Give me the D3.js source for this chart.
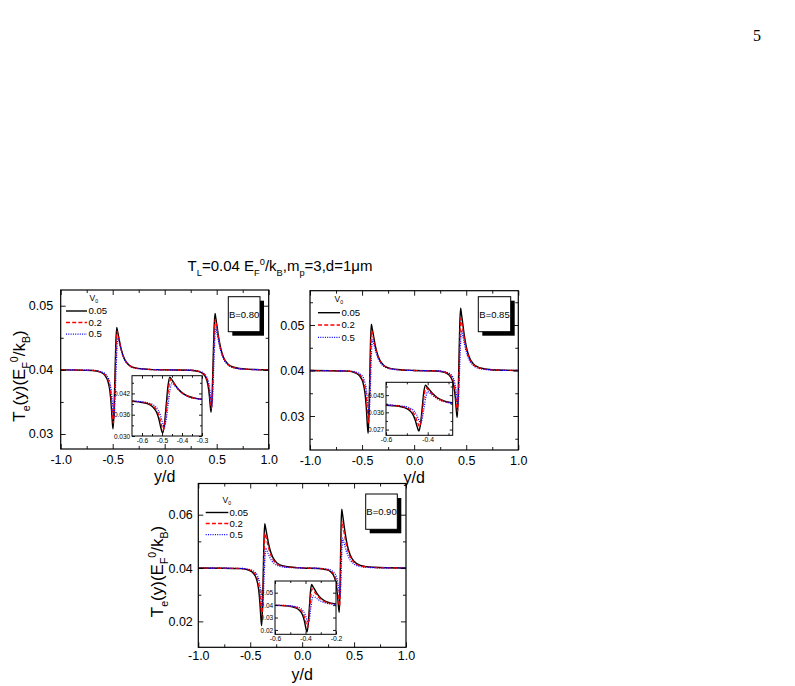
<!DOCTYPE html>
<html><head><meta charset="utf-8">
<script src="https://cdn.jsdelivr.net/npm/d3@7"></script>
<style>body{margin:0;background:#fff}svg{display:block}</style>
</head><body>
<svg id="c" width="795" height="686"></svg>
<script>
// ---------------- DATA ----------------
const seriesNames = ["0.05", "0.2", "0.5"];
const panelLabels = ["B=0.80", "B=0.85", "B=0.90"];
const xTickValues = [-1, -0.5, 0, 0.5, 1];
const xTickLabels = ["-1.0", "-0.5", "0.0", "0.5", "1.0"];
const xMinorValues = [-0.75, -0.25, 0.25, 0.75];

// B = 0.80
const b080_x_005 = [-1, -0.697, -0.617, -0.577, -0.547, -0.527, -0.515, -0.505, -0.497, -0.488, -0.479, -0.470, -0.461, -0.453, -0.441, -0.426, -0.406, -0.381, -0.341, -0.281, -0.161, 0, 0.246, 0.326, 0.366, 0.396, 0.416, 0.428, 0.438, 0.446, 0.4555, 0.465, 0.4745, 0.484, 0.492, 0.504, 0.519, 0.539, 0.564, 0.604, 0.664, 0.784, 1];
const b080_y_005 = [0.04, 0.03991, 0.03963, 0.03917, 0.03825, 0.03669, 0.03466, 0.03218, 0.0308, 0.03326, 0.0387, 0.04414, 0.0466, 0.04601, 0.04502, 0.04376, 0.04251, 0.04152, 0.04073, 0.0403, 0.04008, 0.04, 0.03993, 0.03974, 0.03941, 0.03875, 0.03762, 0.03617, 0.03439, 0.0334, 0.0358, 0.0411, 0.0464, 0.0488, 0.04801, 0.04669, 0.04502, 0.04334, 0.04202, 0.04097, 0.0404, 0.04011, 0.04];
const b080_x_02 = [-1, -0.694, -0.614, -0.574, -0.544, -0.524, -0.512, -0.502, -0.494, -0.4848, -0.4755, -0.4663, -0.457, -0.449, -0.437, -0.422, -0.402, -0.377, -0.337, -0.277, -0.157, 0, 0.249, 0.329, 0.369, 0.399, 0.419, 0.431, 0.441, 0.449, 0.4585, 0.468, 0.4775, 0.487, 0.495, 0.507, 0.522, 0.542, 0.567, 0.607, 0.667, 0.787, 1];
const b080_y_02 = [0.04, 0.03992, 0.03967, 0.03925, 0.03842, 0.03701, 0.03519, 0.03295, 0.0317, 0.03393, 0.03885, 0.04377, 0.046, 0.04546, 0.04456, 0.04342, 0.04228, 0.04138, 0.04066, 0.04027, 0.04007, 0.04, 0.03994, 0.03976, 0.03946, 0.03886, 0.03784, 0.03652, 0.0349, 0.034, 0.03617, 0.04095, 0.04573, 0.0479, 0.04719, 0.046, 0.0445, 0.043, 0.04182, 0.04087, 0.04036, 0.04009, 0.04];
const b080_x_05 = [-1, -0.689, -0.609, -0.569, -0.539, -0.519, -0.507, -0.497, -0.489, -0.4793, -0.4695, -0.4598, -0.45, -0.442, -0.43, -0.415, -0.395, -0.37, -0.33, -0.27, -0.15, 0, 0.253, 0.333, 0.373, 0.403, 0.423, 0.435, 0.445, 0.453, 0.4625, 0.472, 0.4815, 0.491, 0.499, 0.511, 0.526, 0.546, 0.571, 0.611, 0.671, 0.791, 1];
const b080_y_05 = [0.04, 0.03993, 0.0397, 0.03933, 0.03859, 0.03734, 0.03571, 0.03371, 0.0326, 0.03453, 0.0388, 0.04307, 0.045, 0.04455, 0.0438, 0.04285, 0.0419, 0.04115, 0.04055, 0.04023, 0.04006, 0.04, 0.03994, 0.03978, 0.0395, 0.03894, 0.03798, 0.03675, 0.03524, 0.0344, 0.0363, 0.0405, 0.0447, 0.0466, 0.04601, 0.04502, 0.04376, 0.04251, 0.04152, 0.04073, 0.0403, 0.04008, 0.04];

// B = 0.85
const b085_x_005 = [-1, -0.642, -0.562, -0.522, -0.492, -0.472, -0.46, -0.45, -0.442, -0.4343, -0.4265, -0.4188, -0.411, -0.403, -0.391, -0.376, -0.356, -0.331, -0.291, -0.231, -0.111, 0, 0.213, 0.293, 0.333, 0.363, 0.383, 0.395, 0.405, 0.413, 0.4213, 0.4295, 0.4378, 0.446, 0.454, 0.466, 0.481, 0.501, 0.526, 0.566, 0.626, 0.746, 1];
const b085_y_005 = [0.04, 0.03986, 0.03945, 0.03876, 0.03738, 0.03503, 0.032, 0.02827, 0.0262, 0.02994, 0.0382, 0.04646, 0.0502, 0.04928, 0.04775, 0.04581, 0.04388, 0.04235, 0.04112, 0.04046, 0.04012, 0.04, 0.0399, 0.03959, 0.03907, 0.03804, 0.03629, 0.03403, 0.03125, 0.0297, 0.03344, 0.0417, 0.04996, 0.0537, 0.05247, 0.05041, 0.04781, 0.04521, 0.04315, 0.04151, 0.04062, 0.04016, 0.04];
const b085_x_02 = [-1, -0.639, -0.559, -0.519, -0.489, -0.469, -0.457, -0.447, -0.439, -0.4313, -0.4235, -0.4158, -0.408, -0.4, -0.388, -0.373, -0.353, -0.328, -0.288, -0.228, -0.108, 0, 0.216, 0.296, 0.336, 0.366, 0.386, 0.398, 0.408, 0.416, 0.4243, 0.4325, 0.4408, 0.449, 0.457, 0.469, 0.484, 0.504, 0.529, 0.569, 0.629, 0.749, 1];
const b085_y_02 = [0.04, 0.03989, 0.03954, 0.03897, 0.03782, 0.03586, 0.03333, 0.03023, 0.0285, 0.03167, 0.03865, 0.04563, 0.0488, 0.04801, 0.04669, 0.04502, 0.04334, 0.04202, 0.04097, 0.0404, 0.04011, 0.04, 0.03991, 0.03964, 0.03919, 0.03829, 0.03676, 0.03478, 0.03235, 0.031, 0.0342, 0.04125, 0.0483, 0.0515, 0.05047, 0.04874, 0.04656, 0.04437, 0.04265, 0.04127, 0.04052, 0.04014, 0.04];
const b085_x_05 = [-1, -0.634, -0.554, -0.514, -0.484, -0.464, -0.452, -0.442, -0.434, -0.4255, -0.417, -0.4085, -0.4, -0.392, -0.38, -0.365, -0.345, -0.32, -0.28, -0.22, -0.1, 0, 0.22, 0.3, 0.34, 0.37, 0.39, 0.402, 0.412, 0.42, 0.4288, 0.4375, 0.4463, 0.455, 0.463, 0.475, 0.49, 0.51, 0.535, 0.575, 0.635, 0.755, 1];
const b085_y_05 = [0.04, 0.0399, 0.03962, 0.03915, 0.0382, 0.03658, 0.03449, 0.03193, 0.0305, 0.03304, 0.03865, 0.04426, 0.0468, 0.04619, 0.04517, 0.04388, 0.04258, 0.04156, 0.04075, 0.04031, 0.04008, 0.04, 0.03993, 0.0397, 0.03933, 0.03858, 0.0373, 0.03565, 0.03363, 0.0325, 0.03504, 0.04065, 0.04626, 0.0488, 0.04801, 0.04669, 0.04502, 0.04334, 0.04202, 0.04097, 0.0404, 0.04011, 0.04];

// B = 0.90
const b090_x_005 = [-1, -0.59, -0.51, -0.47, -0.44, -0.42, -0.408, -0.398, -0.39, -0.3825, -0.375, -0.3675, -0.36, -0.352, -0.34, -0.325, -0.305, -0.28, -0.24, -0.18, -0.06, 0, 0.157, 0.237, 0.277, 0.307, 0.327, 0.339, 0.349, 0.357, 0.363, 0.369, 0.375, 0.381, 0.389, 0.401, 0.416, 0.436, 0.461, 0.501, 0.561, 0.681, 1];
const b090_y_005 = [0.04, 0.03978, 0.03914, 0.03806, 0.0359, 0.03222, 0.02747, 0.02164, 0.0184, 0.02436, 0.0375, 0.05064, 0.0566, 0.05511, 0.05262, 0.04946, 0.04631, 0.04382, 0.04183, 0.04075, 0.0402, 0.04, 0.03983, 0.03934, 0.03851, 0.03685, 0.03402, 0.03037, 0.02589, 0.0234, 0.02944, 0.04275, 0.05606, 0.0621, 0.06011, 0.0568, 0.0526, 0.0484, 0.04508, 0.04243, 0.04099, 0.04027, 0.04];
const b090_x_02 = [-1, -0.587, -0.507, -0.467, -0.437, -0.417, -0.405, -0.395, -0.387, -0.3795, -0.372, -0.3645, -0.357, -0.349, -0.337, -0.322, -0.302, -0.277, -0.237, -0.177, -0.057, 0, 0.16, 0.24, 0.28, 0.31, 0.33, 0.342, 0.352, 0.36, 0.366, 0.372, 0.378, 0.384, 0.392, 0.404, 0.419, 0.439, 0.464, 0.504, 0.564, 0.684, 1];
const b090_y_02 = [0.04, 0.03982, 0.03928, 0.03838, 0.03658, 0.03352, 0.02956, 0.0247, 0.022, 0.02684, 0.0375, 0.04816, 0.053, 0.05183, 0.04988, 0.04741, 0.04494, 0.04299, 0.04143, 0.04059, 0.04016, 0.04, 0.03986, 0.03943, 0.03871, 0.03728, 0.03485, 0.03171, 0.02785, 0.0257, 0.03066, 0.0416, 0.05254, 0.0575, 0.05593, 0.0533, 0.04998, 0.04665, 0.04403, 0.04193, 0.04079, 0.04021, 0.04];
const b090_x_05 = [-1, -0.582, -0.502, -0.462, -0.432, -0.412, -0.4, -0.39, -0.382, -0.374, -0.366, -0.358, -0.35, -0.342, -0.33, -0.315, -0.295, -0.27, -0.23, -0.17, -0.05, 0, 0.165, 0.245, 0.285, 0.315, 0.335, 0.347, 0.357, 0.365, 0.3713, 0.3775, 0.3838, 0.39, 0.398, 0.41, 0.425, 0.445, 0.47, 0.51, 0.57, 0.69, 1];
const b090_y_05 = [0.04, 0.03986, 0.03943, 0.03871, 0.03728, 0.03485, 0.03171, 0.02785, 0.0257, 0.0291, 0.0366, 0.0441, 0.0475, 0.04683, 0.0457, 0.04428, 0.04285, 0.04173, 0.04083, 0.04034, 0.04009, 0.04, 0.03989, 0.03958, 0.03905, 0.03799, 0.03618, 0.03385, 0.03099, 0.0294, 0.0328, 0.0403, 0.0478, 0.0512, 0.05019, 0.04851, 0.04638, 0.04426, 0.04258, 0.04123, 0.0405, 0.04013, 0.04];

// Tick values / labels
const yTicks080 = [0.03, 0.04, 0.05], yTickLabels080 = ["0.03", "0.04", "0.05"], yMinor080 = [0.035, 0.045];
const yTicks085 = [0.03, 0.04, 0.05], yTickLabels085 = ["0.03", "0.04", "0.05"], yMinor085 = [0.025, 0.035, 0.045, 0.055];
const yTicks090 = [0.02, 0.04, 0.06], yTickLabels090 = ["0.02", "0.04", "0.06"], yMinor090 = [0.03, 0.05];
const insetX080 = [-0.6, -0.5, -0.4, -0.3], insetXLabels080 = ["-0.6", "-0.5", "-0.4", "-0.3"], insetXMinor080 = [-0.55, -0.45, -0.35];
const insetY080 = [0.030, 0.036, 0.042], insetYLabels080 = ["0.030", "0.036", "0.042"], insetYMinor080 = [0.033, 0.039, 0.045];
const insetX085 = [-0.6, -0.4], insetXLabels085 = ["-0.6", "-0.4"], insetXMinor085 = [-0.5, -0.3];
const insetY085 = [0.027, 0.036, 0.045], insetYLabels085 = ["0.027", "0.036", "0.045"], insetYMinor085 = [0.0315, 0.0405, 0.0495];
const insetX090 = [-0.6, -0.4, -0.2], insetXLabels090 = ["-0.6", "-0.4", "-0.2"], insetXMinor090 = [-0.5, -0.3];
const insetY090 = [0.02, 0.03, 0.04, 0.05], insetYLabels090 = ["0.02", "0.03", "0.04", "0.05"], insetYMinor090 = [];

// ---------------- STYLE / LAYOUT ----------------
const FONT = "Arial, 'Liberation Sans', Helvetica, sans-serif";
const seriesStyles = [
  {color: "#000000", dash: null, width: 1.4},
  {color: "#ff0000", dash: "4,2.2", width: 1.35},
  {color: "#0000ff", dash: "1,1.3", width: 1.25}
];

const panels = [
  {
    name: "b080", label: panelLabels[0],
    series: [[b080_x_005, b080_y_005], [b080_x_02, b080_y_02], [b080_x_05, b080_y_05]],
    frame: {x0: 60.7, x1: 268.7, y0: 290, y1: 449}, yDomain: [0.02766, 0.05245],
    yTicks: yTicks080, yLabels: yTickLabels080, yMinor: yMinor080,
    padX: 6.5, padY: 7.5, yTitle: {x: 25, y: 376}, xTitleY: 482,
    legend: {vx: 89.5, vy: 300.5, lx0: 66, lx1: 87, rows: [311, 322.5, 334], tx: 88.5},
    box: {x: 228.3, y: 296.7, w: 31.7, h: 35},
    inset: {frame: {x0: 132, x1: 202, y0: 375.7, y1: 436}, xDomain: [-0.65, -0.3], yDomain: [0.030, 0.047],
      xTicks: insetX080, xLabels: insetXLabels080, xMinor: insetXMinor080,
      yTicks: insetY080, yLabels: insetYLabels080, yMinor: insetYMinor080}
  },
  {
    name: "b085", label: panelLabels[1],
    series: [[b085_x_005, b085_y_005], [b085_x_02, b085_y_02], [b085_x_05, b085_y_05]],
    frame: {x0: 310, x1: 518.3, y0: 290.7, y1: 450}, yDomain: [0.02253, 0.05754],
    yTicks: yTicks085, yLabels: yTickLabels085, yMinor: yMinor085,
    padX: 6.5, padY: 5.5, yTitle: null, xTitleY: 483,
    legend: {vx: 334.5, vy: 301.5, lx0: 318, lx1: 340, rows: [312.7, 325, 337.3], tx: 341.5},
    box: {x: 478.3, y: 296.7, w: 32.4, h: 35},
    inset: {frame: {x0: 386, x1: 452.7, y0: 382.3, y1: 435.3}, xDomain: [-0.6, -0.28], yDomain: [0.024, 0.0517],
      xTicks: insetX085, xLabels: insetXLabels085, xMinor: insetXMinor085,
      yTicks: insetY085, yLabels: insetYLabels085, yMinor: insetYMinor085}
  },
  {
    name: "b090", label: panelLabels[2],
    series: [[b090_x_005, b090_y_005], [b090_x_02, b090_y_02], [b090_x_05, b090_y_05]],
    frame: {x0: 198.3, x1: 406, y0: 483.5, y1: 647.3}, yDomain: [0.01028, 0.0717],
    yTicks: yTicks090, yLabels: yTickLabels090, yMinor: yMinor090,
    padX: 4, padY: 5.5, yTitle: {x: 162.6, y: 571.5}, xTitleY: 679.5,
    legend: {vx: 222.5, vy: 502.8, lx0: 205.7, lx1: 228.3, rows: [512.5, 523.5, 534.5], tx: 229.5},
    box: {x: 365.7, y: 494, w: 31.6, h: 35.3},
    inset: {frame: {x0: 275, x1: 336, y0: 581, y1: 634.3}, xDomain: [-0.6, -0.2], yDomain: [0.0165, 0.0594],
      xTicks: insetX090, xLabels: insetXLabels090, xMinor: insetXMinor090,
      yTicks: insetY090, yLabels: insetYLabels090, yMinor: insetYMinor090}
  }
];

const svg = d3.select("#c");
svg.append("rect").attr("width", 795).attr("height", 686).attr("fill", "#fff");
const defs = svg.append("defs");

function rich(textSel, segs, fs) {
  let cur = 0;
  segs.forEach(s => {
    const off = s.sub ? 0.3 * fs : (s.sup ? -0.4 * fs : 0);
    textSel.append("tspan").attr("dy", off - cur)
      .attr("font-size", (s.sub || s.sup) ? fs * 0.62 : fs).text(s.t);
    cur = off;
  });
}

function addAxis(g, gen, tr, vals, size, pad, labels, fs) {
  const a = g.append("g").attr("transform", tr)
    .call(gen.tickValues(vals).tickSizeInner(-size).tickSizeOuter(0).tickPadding(pad)
      .tickFormat((d, i) => labels ? labels[i] : ""));
  a.select(".domain").remove();
  a.attr("font-family", FONT).attr("font-size", fs);
  a.selectAll("line").attr("stroke", "#000").attr("stroke-width", 0.9);
  a.selectAll("text").attr("fill", "#000");
  return a;
}

function drawFrame(g, x, y, o) {
  const [x0, x1] = x.range(), [yb, yt] = y.range();
  addAxis(g, d3.axisBottom(x), `translate(0,${yb})`, o.xTicks, o.tMaj, o.padX, o.xLabels, o.fsX);
  addAxis(g, d3.axisBottom(x), `translate(0,${yb})`, o.xMinor, o.tMin, 0, null, o.fsX);
  addAxis(g, d3.axisTop(x), `translate(0,${yt})`, o.xTicks, o.tMaj, 0, null, o.fsX);
  addAxis(g, d3.axisTop(x), `translate(0,${yt})`, o.xMinor, o.tMin, 0, null, o.fsX);
  addAxis(g, d3.axisLeft(y), `translate(${x0},0)`, o.yTicks, o.tMaj, o.padY, o.yLabels, o.fsY);
  addAxis(g, d3.axisLeft(y), `translate(${x0},0)`, o.yMinor, o.tMin, 0, null, o.fsY);
  addAxis(g, d3.axisRight(y), `translate(${x1},0)`, o.yTicks, o.tMaj, 0, null, o.fsY);
  addAxis(g, d3.axisRight(y), `translate(${x1},0)`, o.yMinor, o.tMin, 0, null, o.fsY);
  g.append("rect").attr("x", x0).attr("y", yt).attr("width", x1 - x0).attr("height", yb - yt)
    .attr("fill", "none").attr("stroke", "#000").attr("stroke-width", o.frameW);
}

function drawCurves(g, x, y, series, clipId, scaleW) {
  const line = d3.line().x(d => x(d[0])).y(d => y(d[1])).curve(d3.curveMonotoneX);
  const cg = g.append("g").attr("clip-path", `url(#${clipId})`);
  series.forEach((s, i) => {
    const pts = s[0].map((xv, k) => [xv, s[1][k]]);
    const st = seriesStyles[i];
    cg.append("path").attr("d", line(pts)).attr("fill", "none")
      .attr("stroke", st.color).attr("stroke-width", st.width * scaleW)
      .attr("stroke-dasharray", st.dash).attr("stroke-linejoin", "round");
  });
}

panels.forEach(p => {
  const g = svg.append("g");
  const f = p.frame;
  const x = d3.scaleLinear().domain([-1, 1]).range([f.x0, f.x1]);
  const y = d3.scaleLinear().domain(p.yDomain).range([f.y1, f.y0]);
  defs.append("clipPath").attr("id", "clip-" + p.name).append("rect")
    .attr("x", f.x0).attr("y", f.y0).attr("width", f.x1 - f.x0).attr("height", f.y1 - f.y0);
  drawCurves(g, x, y, p.series, "clip-" + p.name, 1);
  drawFrame(g, x, y, {xTicks: xTickValues, xLabels: xTickLabels, xMinor: xMinorValues,
    yTicks: p.yTicks, yLabels: p.yLabels, yMinor: p.yMinor,
    tMaj: 5, tMin: 3, padX: p.padX, padY: p.padY, fsX: 12.5, fsY: 12.5, frameW: 1.2});

  // axis titles
  g.append("text").attr("x", (f.x0 + f.x1) / 2).attr("y", p.xTitleY)
    .attr("text-anchor", "middle").attr("font-family", FONT).attr("font-size", 16).text("y/d");
  if (p.yTitle) {
    const yt = g.append("text").attr("transform", `translate(${p.yTitle.x},${p.yTitle.y}) rotate(-90)`)
      .attr("text-anchor", "middle").attr("font-family", FONT).attr("font-size", 17);
    rich(yt, [{t: "T"}, {t: "e", sub: true}, {t: "(y)(E"}, {t: "F", sub: true}, {t: "0", sup: true},
      {t: "/k"}, {t: "B", sub: true}, {t: ")"}], 17);
  }

  // legend
  const L = p.legend;
  const vt = g.append("text").attr("x", L.vx).attr("y", L.vy).attr("font-family", FONT).attr("font-size", 8.5);
  rich(vt, [{t: "V"}, {t: "0", sub: true}], 8.5);
  seriesNames.forEach((nm, i) => {
    const st = seriesStyles[i];
    g.append("line").attr("x1", L.lx0).attr("x2", L.lx1).attr("y1", L.rows[i]).attr("y2", L.rows[i])
      .attr("stroke", st.color).attr("stroke-width", st.width).attr("stroke-dasharray", st.dash);
    g.append("text").attr("x", L.tx).attr("y", L.rows[i]).attr("dy", "0.35em")
      .attr("font-family", FONT).attr("font-size", 9.6).text(nm);
  });

  // B label box with shadow
  const b = p.box;
  g.append("rect").attr("x", b.x + 4).attr("y", b.y + 4).attr("width", b.w).attr("height", b.h).attr("fill", "#000");
  g.append("rect").attr("x", b.x).attr("y", b.y).attr("width", b.w).attr("height", b.h)
    .attr("fill", "#fff").attr("stroke", "#000").attr("stroke-width", 1);
  g.append("text").attr("x", b.x + b.w / 2).attr("y", b.y + b.h / 2).attr("dy", "0.35em")
    .attr("text-anchor", "middle").attr("font-family", FONT).attr("font-size", 9.5).text(p.label);

  // inset
  const I = p.inset, fi = I.frame;
  const xi = d3.scaleLinear().domain(I.xDomain).range([fi.x0, fi.x1]);
  const yi = d3.scaleLinear().domain(I.yDomain).range([fi.y1, fi.y0]);
  g.append("rect").attr("x", fi.x0).attr("y", fi.y0).attr("width", fi.x1 - fi.x0).attr("height", fi.y1 - fi.y0).attr("fill", "#fff");
  defs.append("clipPath").attr("id", "clipi-" + p.name).append("rect")
    .attr("x", fi.x0).attr("y", fi.y0).attr("width", fi.x1 - fi.x0).attr("height", fi.y1 - fi.y0);
  drawCurves(g, xi, yi, p.series, "clipi-" + p.name, 1);
  drawFrame(g, xi, yi, {xTicks: I.xTicks, xLabels: I.xLabels, xMinor: I.xMinor,
    yTicks: I.yTicks, yLabels: I.yLabels, yMinor: I.yMinor,
    tMaj: 3, tMin: 2, padX: 2, padY: 1.8, fsX: 6.8, fsY: 6.5, frameW: 1});
});

// title
const title = svg.append("text").attr("x", 280).attr("y", 271).attr("text-anchor", "middle")
  .attr("font-family", FONT).attr("font-size", 15);
rich(title, [{t: "T"}, {t: "L", sub: true}, {t: "=0.04 E"}, {t: "F", sub: true}, {t: "0", sup: true},
  {t: "/k"}, {t: "B", sub: true}, {t: ",m"}, {t: "p", sub: true}, {t: "=3,d=1\u03bcm"}], 15);

// page number
svg.append("text").attr("x", 757).attr("y", 41).attr("text-anchor", "middle")
  .attr("font-family", "'Liberation Serif', 'DejaVu Serif', serif").attr("font-size", 16).text("5");
</script>
</body></html>
